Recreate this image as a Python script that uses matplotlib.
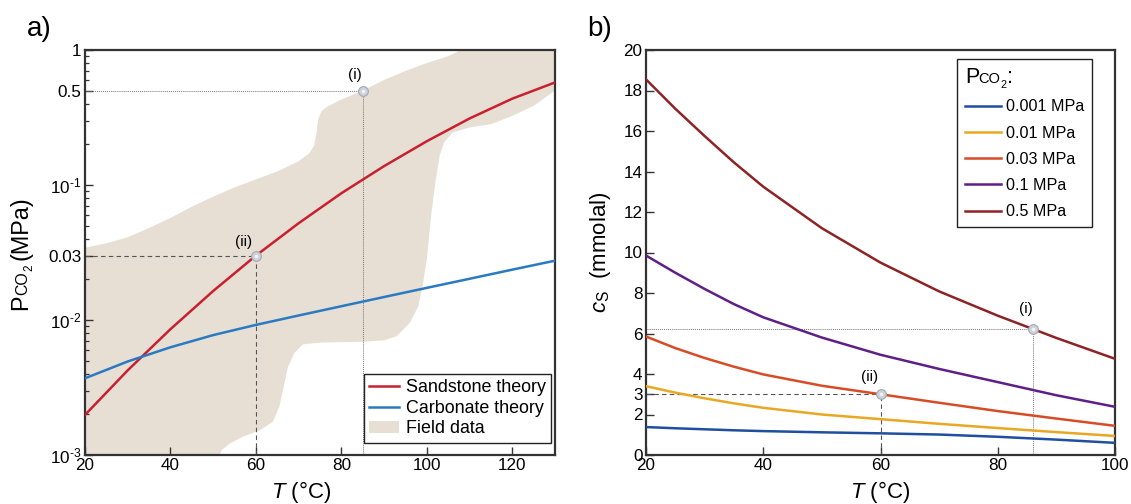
import matplotlib
matplotlib.use("Agg")
import matplotlib.pyplot as plt
from matplotlib.font_manager import FontProperties
from matplotlib.lines import Line2D
from matplotlib.patches import Patch

FONT = "Liberation Sans"
plt.rcParams["font.family"] = FONT
plt.rcParams["mathtext.fontset"] = "custom"
plt.rcParams["mathtext.rm"] = FONT
plt.rcParams["mathtext.it"] = FONT + ":italic"

# ---- a) CO2 partial pressure vs temperature ----
temp_a = [20, 30, 40, 50, 60, 70, 80, 90, 100, 110, 120, 130]
sandstone = [0.00198, 0.00424, 0.00855, 0.0164, 0.030, 0.0521, 0.0869, 0.138, 0.211, 0.311, 0.436, 0.575]
carbonate = [0.0037, 0.00493, 0.00628, 0.00773, 0.0092, 0.0108, 0.01265, 0.0148, 0.0173, 0.0202, 0.0236, 0.0275]

# outline of the field-data envelope (upper edge left->right, then lower edge right->left)
field_temp = [20, 25, 30, 35, 40, 45, 50, 55, 60, 65, 70, 72.5, 73.6, 74.2, 74.6, 75.4, 76.7,
              80, 85, 90, 95, 100, 105, 108, 112, 130,
              130, 125, 120, 115, 110, 106, 104, 103, 102, 101, 100, 99, 98, 96, 93, 90,
              85, 75, 71, 69, 67.5, 66.5, 65.5, 64, 61, 57, 54, 52, 51, 20]
field_pco2 = [0.0343, 0.037, 0.041, 0.048, 0.057, 0.069, 0.082, 0.096, 0.110, 0.126, 0.150,
              0.172, 0.195, 0.245, 0.308, 0.354, 0.381,
              0.43, 0.50, 0.60, 0.70, 0.80, 0.90, 1.0, 1.15, 1.15,
              0.50, 0.386, 0.325, 0.282, 0.267, 0.245, 0.206, 0.164, 0.104, 0.059, 0.028,
              0.0178, 0.0126, 0.0095, 0.0076, 0.00707,
              0.0069, 0.0068, 0.0066, 0.0057, 0.0045, 0.0032, 0.00229, 0.00177, 0.00153,
              0.00137, 0.00122, 0.00109, 0.0009, 0.0009]

point_i_a = (85, 0.5)
point_ii_a = (60, 0.03)

yticks_a = [1e-3, 1e-2, 0.03, 0.1, 0.5, 1]
yticklabels_a = [r"$\mathregular{10^{‐3}}$", r"$\mathregular{10^{‐2}}$", "0.03",
                 r"$\mathregular{10^{‐1}}$", "0.5", "1"]

# ---- b) solubility vs temperature for several pCO2 ----
temp_b = [20, 25, 30, 35, 40, 50, 60, 70, 80, 90, 100]
cs_series = {
    "0.001 MPa": [1.38, 1.32, 1.27, 1.22, 1.18, 1.12, 1.07, 1.01, 0.9, 0.76, 0.6],
    "0.01 MPa": [3.4, 3.08, 2.8, 2.55, 2.33, 2.0, 1.77, 1.54, 1.33, 1.13, 0.94],
    "0.03 MPa": [5.85, 5.28, 4.79, 4.36, 3.98, 3.42, 3.0, 2.58, 2.17, 1.8, 1.44],
    "0.1 MPa": [9.85, 9.0, 8.2, 7.45, 6.8, 5.8, 4.95, 4.25, 3.6, 2.95, 2.38],
    "0.5 MPa": [18.55, 17.1, 15.75, 14.45, 13.25, 11.2, 9.5, 8.08, 6.88, 5.78, 4.75],
}
cs_colors = ["#1f4f9e", "#e8a824", "#d84b27", "#5e1f86", "#8e2326"]

point_i_b = (86, 6.2)
point_ii_b = (60, 3.0)

yticks_b = [0, 2, 3, 4, 6, 8, 10, 12, 14, 16, 18, 20]

W_PX, H_PX = 1131, 504
fig = plt.figure(figsize=(W_PX / 100, H_PX / 100), dpi=100)
ax_a = fig.add_axes([85 / W_PX, 49 / H_PX, 470 / W_PX, 405 / H_PX])
ax_b = fig.add_axes([646 / W_PX, 49 / H_PX, 469 / W_PX, 405 / H_PX])

SPINE = "#333333"
for ax in (ax_a, ax_b):
    for sp in ax.spines.values():
        sp.set_color(SPINE)
        sp.set_linewidth(1.6)
    ax.tick_params(which="both", direction="in", colors=SPINE, labelcolor="black",
                   labelsize=12.3, top=False, right=False)
    ax.tick_params(which="major", length=5.5, width=1.0, pad=2.5)
    ax.tick_params(which="minor", length=3.0, width=0.9)


def mark(ax, pt, text, dx, dy):
    ax.plot(pt[0], pt[1], "o", ms=7, mfc="#cdd2da", mec="#a4a9b1", mew=0.8, zorder=5)
    ax.plot(pt[0], pt[1], "o", ms=2.6, mfc="#f2f4f6", mec="none", zorder=6)
    ax.annotate(text, pt, xytext=(dx, dy), textcoords="offset points",
                ha="center", va="center", fontsize=11)


# panel a
ax_a.fill(field_temp, field_pco2, color="#e7dfd4", lw=0, zorder=1)
ax_a.plot([20, point_i_a[0]], [point_i_a[1]] * 2, ls=(0, (1, 1)), color="#777777", lw=0.7, zorder=2)
ax_a.plot([point_i_a[0]] * 2, [1e-3, point_i_a[1]], ls=(0, (1, 1)), color="#777777", lw=0.7, zorder=2)
ax_a.plot([20, point_ii_a[0]], [point_ii_a[1]] * 2, ls=(0, (4, 3)), color="#555555", lw=0.8, zorder=2)
ax_a.plot([point_ii_a[0]] * 2, [1e-3, point_ii_a[1]], ls=(0, (4, 3)), color="#555555", lw=0.8, zorder=2)
ax_a.plot(temp_a, sandstone, color="#c8202f", lw=1.8, zorder=3)
ax_a.plot(temp_a, carbonate, color="#2a7ac2", lw=1.8, zorder=3)
mark(ax_a, point_i_a, "(i)", -6, 11.5)
mark(ax_a, point_ii_a, "(ii)", -9, 10)

ax_a.set_yscale("log")
ax_a.set_xlim(20, 130)
ax_a.set_ylim(1e-3, 1)
ax_a.set_xticks([20, 40, 60, 80, 100, 120])
ax_a.set_yticks(yticks_a, yticklabels_a)
minor_a = [k * 10.0 ** e for e in (-3, -2, -1) for k in range(2, 10)
           if round(k * 10.0 ** e, 6) not in (0.03, 0.5)]
ax_a.set_yticks(minor_a, minor=True)
ax_a.set_yticklabels([], minor=True)
ax_a.set_xlabel(r"$T$ (°C)", fontsize=16)
ax_a.xaxis.set_label_coords(0.46, -0.06)

handles_a = [Line2D([], [], color="#c8202f", lw=1.8),
             Line2D([], [], color="#2a7ac2", lw=1.8),
             Patch(facecolor="#e7dfd4", edgecolor="none")]
leg_a = ax_a.legend(handles_a, ["Sandstone theory", "Carbonate theory", "Field data"],
                    loc="lower right", bbox_to_anchor=(0.9915, 0.03), borderaxespad=0,
                    fontsize=12.9, handlelength=1.7, handletextpad=0.35, labelspacing=0.2,
                    borderpad=0.3, fancybox=False, framealpha=1, edgecolor="#222222")
leg_a.get_frame().set_linewidth(1.0)

# panel b
ax_b.plot([20, point_i_b[0]], [point_i_b[1]] * 2, ls=(0, (1, 1)), color="#777777", lw=0.7, zorder=2)
ax_b.plot([point_i_b[0]] * 2, [0, point_i_b[1]], ls=(0, (1, 1)), color="#777777", lw=0.7, zorder=2)
ax_b.plot([20, point_ii_b[0]], [point_ii_b[1]] * 2, ls=(0, (4, 3)), color="#555555", lw=0.8, zorder=2)
ax_b.plot([point_ii_b[0]] * 2, [0, point_ii_b[1]], ls=(0, (4, 3)), color="#555555", lw=0.8, zorder=2)
for (label, vals), col in zip(cs_series.items(), cs_colors):
    ax_b.plot(temp_b, vals, color=col, lw=1.8, label=label, zorder=3)
mark(ax_b, point_i_b, "(i)", -5, 15)
mark(ax_b, point_ii_b, "(ii)", -8, 12.5)

ax_b.set_xlim(20, 100)
ax_b.set_ylim(0, 20)
ax_b.set_xticks([20, 40, 60, 80, 100])
ax_b.set_yticks(yticks_b)
ax_b.set_xlabel(r"$T$ (°C)", fontsize=16)
ax_b.xaxis.set_label_coords(0.5, -0.06)
ax_b.set_ylabel(r"$c_\mathrm{S}$  (mmolal)", fontsize=16)
ax_b.yaxis.set_label_coords(-0.07, 0.5)

leg_b = ax_b.legend(loc="upper right", bbox_to_anchor=(0.951, 0.978), borderaxespad=0,
                    fontsize=11.6, handlelength=2.2, handletextpad=0.3, labelspacing=0.7,
                    borderpad=0.5, fancybox=False, framealpha=1, edgecolor="#222222",
                    title="P", title_fontsize=15.5, alignment="left")
leg_b.get_frame().set_linewidth(1.0)

fig.text(27 / W_PX, 1 - 36 / H_PX, "a)", fontsize=20, va="baseline")
fig.text(587 / W_PX, 1 - 36 / H_PX, "b)", fontsize=20, va="baseline")

fig.canvas.draw()
renderer = fig.canvas.get_renderer()


def pco2_chain(x0, y0, size, pieces, rotation=0):
    """Lay out text pieces one after another from a baseline point given in pixels.
    pieces: (text, size factor, drop below baseline as fraction of size, gap before)"""
    along = 0.0
    for s, factor, drop, gap in pieces:
        prop = FontProperties(family=FONT, size=size * factor)
        along += gap * size * fig.dpi / 72
        drop_px = drop * size * fig.dpi / 72
        if rotation == 90:
            x, y = x0 + drop_px, y0 + along
        else:
            x, y = x0 + along, y0 - drop_px
        t = fig.text(x / W_PX, y / H_PX, s, fontproperties=prop, rotation=rotation,
                     rotation_mode="anchor", ha="left", va="baseline")
        bb = t.get_window_extent(renderer)
        along += bb.height if rotation == 90 else bb.width


# y label of panel a: P, small CO, subscript 2, then units
pco2_chain(27, 194, 16.8, [("P", 1, 0, 0), ("CO", 0.68, 0, -0.03), ("2", 0.5, 0.22, 0.02),
                           ("(MPa)", 1, 0, 0.2)], rotation=90)

# rest of the legend title in panel b, continuing after the "P"
title = leg_b.get_title()
tb = title.get_window_extent(renderer)
tprop = FontProperties(family=FONT, size=15.5)
_, _, desc = renderer.get_text_width_height_descent("lp", tprop, ismath=False)
pco2_chain(tb.x1, tb.y0 + desc, 15.5, [("CO", 0.68, 0, -0.07), ("2", 0.5, 0.22, 0.02),
                                       (":", 1, 0, 0.03)])

fig.savefig("out.png", dpi=100)
